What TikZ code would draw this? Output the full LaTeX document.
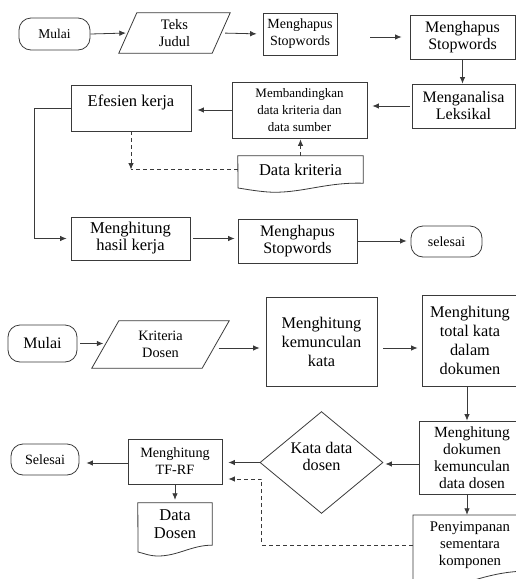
\documentclass[tikz,border=0pt]{standalone}
\usepackage{fontspec}
\setmainfont{Liberation Serif}
\usetikzlibrary{arrows.meta,shapes.geometric}
\definecolor{lc}{HTML}{3A3A3A}
\tikzset{
  base/.style={draw=lc, line width=0.8pt, align=center, inner sep=0pt, text=black},
  boxn/.style={base, rectangle},
  rnd/.style={base, rectangle, rounded corners=12pt},
  bare/.style={align=center, inner sep=0pt, text=black},
  fs/.style={font={\fontsize{#1}{17}\selectfont}},
  arr/.style={draw=lc, line width=0.8pt, -{Latex[length=6.5pt,width=5.5pt]}},
  dsh/.style={draw=lc, line width=0.8pt, dash pattern=on 4pt off 3pt},
  shp/.style={draw=lc, line width=0.8pt}
}
\begin{document}
\begin{tikzpicture}[x=1pt,y=-1pt]
\clip (0,0) rectangle (516,579);
% ---------- top flow ----------
\node[rnd, fs=13.5, minimum width=71pt, minimum height=32pt] (m1) at (54.5,34) {Mulai};
\node[bare, fs=14.5, minimum width=93pt, minimum height=40pt] (tj) at (174.5,33) {Teks\\Judul};
\node[boxn, fs=14, minimum width=74pt, minimum height=42pt] (h1) at (300,34) {Menghapus\\Stopwords};
\node[boxn, fs=16, minimum width=105pt, minimum height=44pt] (h2) at (462.5,37) {Menghapus\\Stopwords};
\node[boxn, fs=16, minimum width=103pt, minimum height=44pt] (la) at (463.5,106) {Menganalisa\\Leksikal};
\node[boxn, fs=13, minimum width=135pt, minimum height=56pt] (mb) at (299.5,110) {Membandingkan\\data kriteria dan\\data sumber};
\node[boxn, fs=16.5, minimum width=120pt, minimum height=46pt, text depth=14pt] (ek) at (131,108) {Efesien kerja};
\node[bare, fs=16.5, minimum width=125pt, minimum height=27pt] (dk) at (300.5,169.5) {Data kriteria};
\node[boxn, fs=16.5, minimum width=119pt, minimum height=43pt] (hk) at (130.5,238.5) {Menghitung\\hasil kerja};
\node[boxn, fs=16, minimum width=119pt, minimum height=44pt] (h3) at (297.5,241) {Menghapus\\Stopwords};
\node[rnd, fs=14, minimum width=71pt, minimum height=31pt] (sl) at (446.5,241.5) {selesai};
% shapes
\draw[shp] ([xshift=-9pt]tj.south west) -- ([xshift=9pt]tj.north west) -- ([xshift=9pt]tj.north east) -- ([xshift=-9pt]tj.south east) -- cycle;
\draw[shp] (dk.north west) -- (dk.north east) -- (dk.south east) .. controls (325,182) and (300,194) .. (268,192) .. controls (255,191) and (245,189) .. (238,188) -- cycle;
% connectors
\draw[arr, shorten >=2pt] (m1.east) -- (tj.west);
\draw[arr, shorten <=4pt, shorten >=6pt] (tj.east) -- (h1.west);
\draw[arr, shorten <=33pt, shorten >=8pt] (h1.east |- h2.west) -- (h2.west);
\draw[arr] (h2.south) -- (h2.south |- la.north);
\draw[arr, shorten <=2pt, shorten >=5pt] (la.west) -- (la.west -| mb.east);
\draw[arr, shorten >=6pt] (mb.west) -- (mb.west -| ek.east);
\draw[arr, shorten >=4pt] (ek.west) -- ++(-36,0) |- (hk.west);
\draw[dsh] (dk.west) -- (ek.south |- dk.west);
\draw[dsh, -{Latex[length=6.5pt,width=5.5pt]}] (ek.south) -- (ek.south |- dk.west);
\draw[dsh, -{Latex[length=6.5pt,width=5.5pt]}, shorten >=1pt] (dk.north) -- (dk.north |- mb.south);
\draw[arr, shorten <=3pt, shorten >=3pt] (hk.east) -- (hk.east -| h3.west);
\draw[arr, shorten >=4pt] (h3.east) -- (h3.east -| sl.west);
% ---------- bottom flow ----------
\node[rnd, fs=16, minimum width=69pt, minimum height=37pt] (m2) at (42.5,343.5) {Mulai};
\node[bare, fs=14.3, minimum width=110pt, minimum height=47pt] (kd) at (160.5,344.5) {Kriteria\\Dosen};
\node[boxn, minimum width=111pt, minimum height=89pt, font={\fontsize{16.3}{19}\selectfont}] (hkk) at (321.5,341.5) {Menghitung\\kemunculan\\kata};
\node[boxn, minimum width=96pt, minimum height=91pt, font={\fontsize{16.3}{19}\selectfont}] (htk) at (470,340.5) {Menghitung\\total kata\\dalam\\dokumen};
\node[boxn, fs=15.5, minimum width=106pt, minimum height=73pt] (hdk) at (472,457.5) {Menghitung\\dokumen\\kemunculan\\data dosen};
\node[bare, fs=14.7, minimum width=114pt, minimum height=60pt] (ps) at (470,545) {Penyimpanan\\sementara\\komponen};
\node[base, diamond, fs=16.2, minimum width=123pt, minimum height=95pt, text depth=12pt] (kdd) at (321.5,462.5) {Kata data\\dosen};
\node[boxn, fs=14.2, minimum width=94pt, minimum height=45pt] (tf) at (175,461.5) {Menghitung\\TF-RF};
\node[rnd, fs=14.1, minimum width=68pt, minimum height=31pt] (sl2) at (45,459.5) {Selesai};
\node[bare, minimum width=74pt, minimum height=42pt, font={\fontsize{16.5}{18}\selectfont}] (dd) at (175,524) {Data\\Dosen};
% shapes
\draw[shp] ([xshift=-13.5pt]kd.south west) -- ([xshift=13.5pt]kd.north west) -- ([xshift=13.5pt]kd.north east) -- ([xshift=-13.5pt]kd.south east) -- cycle;
\draw[shp] (dd.north west) -- (dd.north east) -- (dd.south east) .. controls (192,545) and (178,556) .. (158,556) .. controls (149,556) and (143,553) .. (138,552) -- cycle;
\draw[shp] (413,515) -- (530,515) -- (530,571) .. controls (510,571) and (492,574) .. (465,583) -- (413,592) -- cycle;
% connectors
\draw[arr, shorten <=3pt, shorten >=2pt] (m2.east) -- (m2.east -| kd.west);
\draw[arr, shorten <=3pt, shorten >=6pt] ([yshift=-3.5pt]kd.east) -- ([yshift=-3.5pt]kd.east -| hkk.west);
\draw[arr, shorten <=6pt, shorten >=4pt] ([yshift=-6.5pt]hkk.east) -- ([yshift=-6.5pt]hkk.east -| htk.west);
\draw[arr] ([xshift=-3pt]htk.south) -- ([xshift=-3pt]htk.south |- hdk.north);
\draw[arr, shorten >=2pt] ([yshift=-6.5pt]hdk.west) -- ([yshift=-6.5pt]hdk.west -| kdd.east);
\draw[arr, shorten >=6pt] (kdd.west) -- (kdd.west -| tf.east);
\draw[arr] ([xshift=-5pt]hdk.south) -- ([xshift=-5pt]hdk.south |- ps.north);
\draw[dsh, -{Latex[length=6.5pt,width=5.5pt]}, shorten >=6pt] (ps.west) -- ++(-151,0) |- ([yshift=-17.5pt]tf.east);
\draw[arr, shorten >=7pt] ([yshift=-1.5pt]tf.west) -- ([yshift=-1.5pt]tf.west -| sl2.east);
\draw[arr, shorten >=3pt] (tf.south) -- (tf.south |- dd.north);
\end{tikzpicture}
\end{document}
